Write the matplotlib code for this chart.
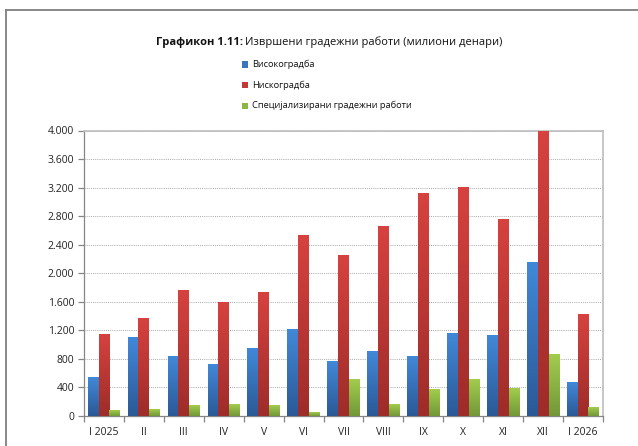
"""
Grafikon 1.11 - izvrsheni gradezhni raboti, recreated with matplotlib.
"""

import numpy as np
import matplotlib

matplotlib.use("Agg")
import matplotlib.pyplot as plt
from matplotlib.colors import LinearSegmentedColormap
from matplotlib.lines import Line2D
from matplotlib.patches import Rectangle
from matplotlib.ticker import FuncFormatter, MultipleLocator


plt.rcParams["font.family"] = ["Open Sans", "DejaVu Sans"]

months = ["I 2025", "II", "III", "IV", "V", "VI", "VII",
          "VIII", "IX", "X", "XI", "XII", "I 2026"]

visokogradba = [537, 1097, 835, 728, 947, 1209, 761,
                905, 835, 1157, 1134, 2151, 467]
niskogradba = [1139, 1377, 1764, 1596, 1736, 2534, 2259,
               2660, 3118, 3202, 2753, 3995, 1423]
specijalizirani = [79, 98, 145, 168, 149, 56, 509,
                   159, 373, 509, 392, 868, 126]

series_names = ["Високоградба", "Нискоградба",
                "Специјализирани градежни работи"]

SERIES = [
    {"values": visokogradba, "top": "#4288D8", "bottom": "#2B5996", "legend": "#3C73BE"},
    {"values": niskogradba, "top": "#D6423F", "bottom": "#9E2C29", "legend": "#C23A37"},
    {"values": specijalizirani, "top": "#A2CC4E", "bottom": "#739838", "legend": "#8DB544"},
]


def gradient_bar(ax, bar, top, bottom):
    cmap = LinearSegmentedColormap.from_list("g", [bottom, top])
    x0 = bar.get_x()
    w = bar.get_width()
    h = bar.get_height()
    grad = np.linspace(0, 1, 64).reshape(-1, 1)
    im = ax.imshow(grad, cmap=cmap, origin="lower", aspect="auto",
                   extent=(x0, x0 + w, 0, h), zorder=3, interpolation="bicubic")
    im.set_clip_path(bar)


fig = plt.figure(figsize=(6.38, 4.46), dpi=100)
ax = fig.add_axes([84 / 638, 1 - 415.7 / 446, (603 - 84) / 638, (415.7 - 130.5) / 446])

x = np.arange(len(months))
width = 0.27

for i, cfg in enumerate(SERIES):
    bars = ax.bar(x + (i - 1) * width, cfg["values"], width,
                  color="none", edgecolor="none", zorder=3)
    for bar in bars:
        gradient_bar(ax, bar, cfg["top"], cfg["bottom"])

ax.set_xlim(-0.5, len(months) - 0.5)
ax.set_ylim(0, 4000)

ax.yaxis.set_major_locator(MultipleLocator(400))
ax.yaxis.set_major_formatter(FuncFormatter(lambda v, p: f"{v:,.0f}".replace(",", ".")))
ax.grid(True, axis="y", color="#A8A8A8", linestyle=(0, (1, 1.2)), linewidth=0.7, zorder=1)

ax.set_xticks(x)
ax.set_xticklabels(months)
ax.set_xticks(np.arange(len(months) + 1) - 0.5, minor=True)
ax.tick_params(axis="x", which="major", length=0, pad=8, labelsize=7.5, labelcolor="#222222")
ax.tick_params(axis="x", which="minor", length=4, color="#868686", width=0.9)
ax.tick_params(axis="y", length=4, color="#868686", width=0.9, pad=3,
               labelsize=7.5, labelcolor="#222222")

for side in ["top", "right"]:
    ax.spines[side].set_color("#BDBDBD")
    ax.spines[side].set_linewidth(1.2)
for side in ["left", "bottom"]:
    ax.spines[side].set_color("#868686")
    ax.spines[side].set_linewidth(0.9)

# title: bold label + regular text
fig.text(243 / 638, 1 - 42 / 446, "Графикон 1.11:", ha="right", va="center",
         fontsize=8, fontweight="bold", color="#111111")
fig.text(245 / 638, 1 - 42 / 446, "Извршени градежни работи (милиони денари)",
         ha="left", va="center", fontsize=8, color="#111111")

# legend, stacked
for k, (name, cfg) in enumerate(zip(series_names, SERIES)):
    yc = 64.5 + k * 20.6
    fig.add_artist(Rectangle((242 / 638, 1 - (yc + 3) / 446), 6 / 638, 6 / 446,
                             transform=fig.transFigure, facecolor=cfg["legend"],
                             edgecolor="none"))
    fig.text(252 / 638, 1 - yc / 446, name, ha="left", va="center",
             fontsize=6.7, color="#111111")

# outer frame (top and left edges visible)
fig.add_artist(Line2D([6 / 638, 1], [1 - 10 / 446, 1 - 10 / 446],
                      transform=fig.transFigure, color="#7F7F7F", linewidth=1.3))
fig.add_artist(Line2D([6 / 638, 6 / 638], [0, 1 - 10 / 446],
                      transform=fig.transFigure, color="#7F7F7F", linewidth=1.3))

fig.savefig("out.png", dpi=100)
plt.close(fig)
